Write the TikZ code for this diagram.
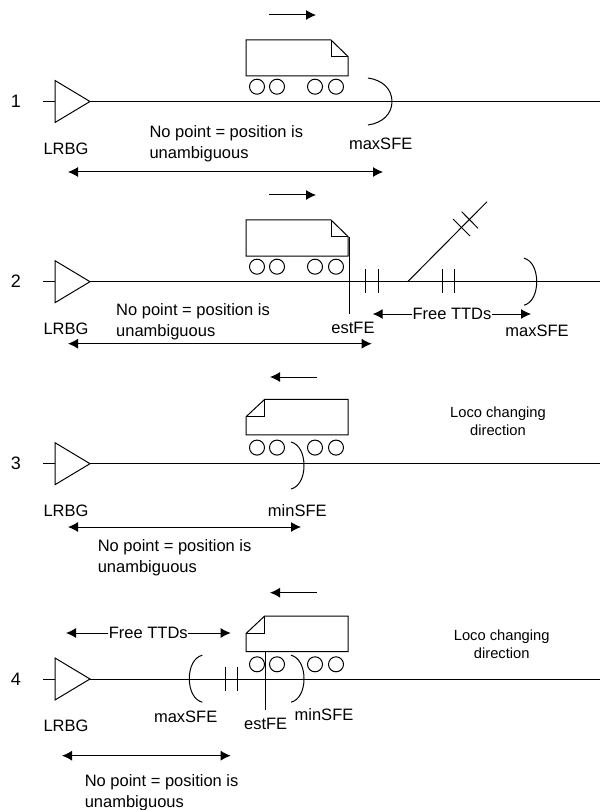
\documentclass[tikz,border=0pt]{standalone}
\usepackage{fontspec}
\setmainfont{Liberation Sans}
\usetikzlibrary{arrows.meta}
\tikzset{
  x=1pt,y=-1pt,
  every path/.style={line width=1pt},
  lbl/.style={inner sep=0pt,font=\fontsize{16.5}{20}\selectfont},
  numlbl/.style={inner sep=0pt,font=\fontsize{18}{20}\selectfont},
  small/.style={inner sep=0pt,font=\fontsize{14.7}{18}\selectfont,align=center},
  note/.style={inner sep=0pt,font=\fontsize{16.5}{20.5}\selectfont,align=left,anchor=west},
  wheel/.style={draw,circle,inner sep=0pt,minimum size=15pt},
  arr/.style={-{Latex[length=10pt,width=10pt]}},
  dbl/.style={{Latex[length=10pt,width=10pt]}-{Latex[length=10pt,width=10pt]}}
}
% #1 = name prefix, #2 = track y
\newcommand{\trackrow}[3]{%
  \node[numlbl] (#1num) at (16,#2) {#3};
  \coordinate (#1start) at (43,#2);
  \coordinate (#1end) at (600,#2);
  \coordinate (#1tipa) at (55,#2-21);
  \coordinate (#1tipb) at (55,#2+21);
  \coordinate (#1tipc) at (90,#2);
  \draw (#1start) -- (#1end);
  \draw[fill=white] (#1tipa) -- (#1tipc) -- (#1tipb) -- cycle;
}
% #1 = top y, right-running train
\newcommand{\trainright}[1]{%
  \draw (246,#1) -- (331,#1) -- (348,#1+16.5) -- (348,#1+36) -- (246,#1+36) -- cycle;
  \draw (331,#1) -- (331,#1+16.5) -- (348,#1+16.5);
  \foreach \wx in {257,277,315,336} \node[wheel] at (\wx,#1+46.7) {};
}
\newcommand{\trainleft}[1]{%
  \draw (246,#1+17.5) -- (264.7,#1) -- (348,#1) -- (348,#1+35.5) -- (246,#1+35.5) -- cycle;
  \draw (264.7,#1) -- (264.7,#1+17.5) -- (246,#1+17.5);
  \foreach \wx in {257,277,315,336} \node[wheel] at (\wx,#1+48.3) {};
}
% arcs: #1 = end x, #2 = peak x, #3 = y
\newcommand{\sfearc}[3]{%
  \draw (#1,#3-23.5) .. controls ({#1+0.62*(#2-#1)},#3-21.5) and (#2,#3-12) .. (#2,#3)
        .. controls (#2,#3+12) and ({#1+0.62*(#2-#1)},#3+21.5) .. (#1,#3+23.5);
}
\begin{document}
\begin{tikzpicture}
\useasboundingbox (0,0) rectangle (600,810);

% ---- row 1
\trackrow{a}{101.5}{1}
\trainright{40}
\coordinate (a1) at (269,15); \coordinate (a2) at (316,15);
\draw[arr] (a1) -- (a2);
\sfearc{368}{392}{101.5}
\node[lbl] (alrbg) at (66,149) {LRBG};
\node[lbl] (amax) at (380.7,144.3) {maxSFE};
\node[note] (anote) at (149,143.5) {No point = position is\\unambiguous};
\coordinate (a3) at (68,172); \coordinate (a4) at (383,172);
\draw[dbl] (a3) -- (a4);

% ---- row 2
\trackrow{b}{281.7}{2}
\trainright{220}
\coordinate (b1) at (269,195); \coordinate (b2) at (316,195);
\draw[arr] (b1) -- (b2);
\coordinate (bfe1) at (349.7,236.7); \coordinate (bfe2) at (349.7,313.5);
\draw (bfe1) -- (bfe2);
\foreach \tx in {365.7,378,442.3,454.3} \draw (\tx,269) -- (\tx,293);
\coordinate (bbr1) at (407.7,281.7); \coordinate (bbr2) at (487,201.7);
\draw (bbr1) -- (bbr2);
\draw (453,219) -- (470,236);
\draw (461.7,211.7) -- (478,228.3);
\sfearc{524}{536.7}{281.7}
\node[lbl] (blrbg) at (66,329) {LRBG};
\node[lbl] (bfe) at (353,328) {estFE};
\node[lbl] (bmax) at (537,331) {maxSFE};
\node[note] (bnote) at (115.7,321.5) {No point = position is\\unambiguous};
\node[lbl] (bfree) at (452,314) {Free TTDs};
\coordinate (b3) at (372.7,314); \coordinate (b4) at (531,314);
\draw[arr] (bfree) -- (b3);
\draw[arr] (bfree) -- (b4);
\coordinate (b5) at (68,343.7); \coordinate (b6) at (371.7,343.7);
\draw[dbl] (b5) -- (b6);

% ---- row 3
\trackrow{c}{463.7}{3}
\trainleft{399.3}
\coordinate (c1) at (317,377); \coordinate (c2) at (270,377);
\draw[arr] (c1) -- (c2);
\sfearc{291}{304}{465.5}
\node[lbl] (clrbg) at (66,510.7) {LRBG};
\node[lbl] (cmin) at (297.3,510.7) {minSFE};
\node[note] (cnote) at (97.3,557.5) {No point = position is\\unambiguous};
\coordinate (c3) at (68,527); \coordinate (c4) at (301,527);
\draw[dbl] (c3) -- (c4);
\node[small] (cloco) at (498,421.7) {Loco changing\\direction};

% ---- row 4
\trackrow{d}{679}{4}
\trainleft{616}
\coordinate (d1) at (317,592.7); \coordinate (d2) at (270,592.7);
\draw[arr] (d1) -- (d2);
\sfearc{202.3}{189.3}{678.7}
\foreach \tx in {225,237.3} \draw (\tx,666.7) -- (\tx,690.7);
\coordinate (dfe1) at (265,651.5); \coordinate (dfe2) at (265,710);
\draw (dfe1) -- (dfe2);
\sfearc{291}{304}{678.7}
\node[lbl] (dlrbg) at (66,725.7) {LRBG};
\node[lbl] (dmax) at (185.7,716.7) {maxSFE};
\node[lbl] (dfe) at (265.7,724) {estFE};
\node[lbl] (dmin) at (324,715) {minSFE};
\node[lbl] (dfree) at (148.3,633) {Free TTDs};
\coordinate (d3) at (66,633); \coordinate (d4) at (230.7,633);
\draw[arr] (dfree) -- (d3);
\draw[arr] (dfree) -- (d4);
\coordinate (d5) at (62,755.7); \coordinate (d6) at (230.7,755.7);
\draw[dbl] (d5) -- (d6);
\node[note] (dnote) at (84.3,792.5) {No point = position is\\unambiguous};
\node[small] (dloco) at (501.7,644.5) {Loco changing\\direction};
\end{tikzpicture}
\end{document}
